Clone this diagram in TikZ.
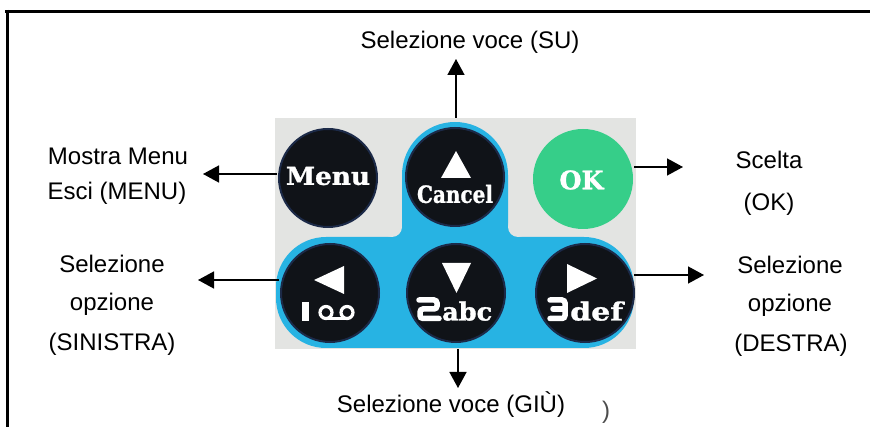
\documentclass[tikz,border=0pt]{standalone}
\usepackage{fontspec}
\setmainfont{Liberation Sans}
\newfontfamily\keyfont[BoldFeatures={FakeBold=1.2}]{DejaVu Serif}
\usetikzlibrary{arrows.meta}
\definecolor{padgray}{HTML}{E3E4E2}
\definecolor{padblue}{HTML}{27B3E3}
\definecolor{padgreen}{HTML}{36CE89}
\definecolor{keyblack}{HTML}{101318}
\definecolor{keyrim}{HTML}{1C2A48}
\tikzset{
  lbl/.style={font=\fontsize{24}{28}\selectfont, anchor=base, inner sep=0pt},
  arr/.style={-{Triangle[length=16pt,width=17pt]}, line width=1.5pt},
  keybtn/.style={circle, fill=keyblack, draw=keyrim, line width=2pt, minimum size=98pt, inner sep=0pt},
  okbtn/.style={circle, fill=padgreen, minimum size=100pt, inner sep=0pt},
  keytxt/.style={inner sep=0pt, text=white, font=\keyfont\bfseries},
  glyph/.style={white, line width=5.5pt, rounded corners=3pt, line cap=round},
  tri/.style={fill=white}
}
\begin{document}
\begin{tikzpicture}[x=1pt,y=-1pt]
\useasboundingbox (0,0) rectangle (870,427);
\fill[white] (0,0) rectangle (870,427);
% frame
\draw[line width=3.5pt] (5,11.5) -- (870,11.5);
\draw[line width=3pt] (7.5,10) -- (7.5,427);
% keypad photo
\fill[padgray] (275,118) rectangle (636,349);
\fill[padblue, rounded corners=50pt] (276,237) rectangle (634,348);
\fill[padblue] (402,237) -- (402,175) arc[start angle=180,end angle=0,radius=53pt] -- (508,237) -- cycle;
\fill[padblue] (392,227) rectangle (518,237);
\fill[padgray] (392,227) circle[radius=10pt];
\fill[padgray] (518,227) circle[radius=10pt];
% keys
\node[keybtn] (kMenu) at (328,178) {};
\node[keybtn] (kUp) at (455,177) {};
\node[okbtn] (kOK) at (583,179) {};
\node[keybtn] (kLeft) at (330,293) {};
\node[keybtn] (kDown) at (456,293) {};
\node[keybtn] (kRight) at (585,293) {};
% key inscriptions
\node[keytxt] (tMenu) at (328,176) {\resizebox{84pt}{18pt}{Menu}};
\fill[tri] (441,178) -- (471,178) -- (456,151) -- cycle;
\node[keytxt] (tCancel) at (455,194) {\resizebox{76pt}{18pt}{Cancel}};
\node[keytxt] (tOK) at (581.5,180) {\resizebox{44pt}{19pt}{OK}};
\fill[tri] (314,280) -- (344,266) -- (344,294) -- cycle;
\draw[white, line width=6.5pt] (305.5,302) -- (305.5,321);
\draw[white, line width=3.2pt] (326,312.5) circle[radius=6pt] (347,312.5) circle[radius=6pt];
\draw[white, line width=3.2pt] (326,318.5) -- (347,318.5);
\fill[tri] (442,263) -- (471,263) -- (456.5,293) -- cycle;
\draw[glyph] (419,300) -- (437,300) -- (437,309) -- (420,309) -- (420,318.5) -- (439,318.5);
\node[keytxt, anchor=south west] (tabc) at (442,321) {\resizebox{50pt}{19pt}{abc}};
\fill[tri] (567,264) -- (567,293) -- (597,278.5) -- cycle;
\draw[glyph] (550,300) -- (565,300) -- (565,318.5) -- (550,318.5);
\draw[glyph] (553,309) -- (565,309);
\node[keytxt, anchor=south west] (tdef) at (570,321) {\resizebox{53pt}{19pt}{def}};
% arrow end points
\coordinate (upS) at (456,118);  \coordinate (upE) at (456,59);
\coordinate (dnS) at (458,349);  \coordinate (dnE) at (458,388);
\coordinate (luS) at (277,174);  \coordinate (luE) at (203,174);
\coordinate (llS) at (279,280);  \coordinate (llE) at (198,280);
\coordinate (ruS) at (634,167);  \coordinate (ruE) at (683,167);
\coordinate (rlS) at (634,275);  \coordinate (rlE) at (704,275);
\draw[arr] (upS) -- (upE);
\draw[arr] (dnS) -- (dnE);
\draw[arr] (luS) -- (luE);
\draw[arr] (llS) -- (llE);
\draw[arr] (ruS) -- (ruE);
\draw[arr] (rlS) -- (rlE);
% labels
\node[lbl] (tSU) at (470,49) {Selezione voce (SU)};
\node[lbl] (tM1) at (118,165) {Mostra Menu};
\node[lbl] (tM2) at (117,200) {Esci (MENU)};
\node[lbl] (tL1) at (112,273) {Selezione};
\node[lbl] (tL2) at (112,311) {opzione};
\node[lbl] (tL3) at (112,351) {(SINISTRA)};
\node[lbl] (tO1) at (769,169) {Scelta};
\node[lbl] (tO2) at (769,211) {(OK)};
\node[lbl] (tR1) at (790,274) {Selezione};
\node[lbl] (tR2) at (790,312) {opzione};
\node[lbl] (tR3) at (791,352) {(DESTRA)};
\node[lbl] (tGIU) at (451,412) {Selezione voce (GIÙ)};
\node[lbl, text=black!70] (tFrag) at (606,418) {)};
\end{tikzpicture}
\end{document}
